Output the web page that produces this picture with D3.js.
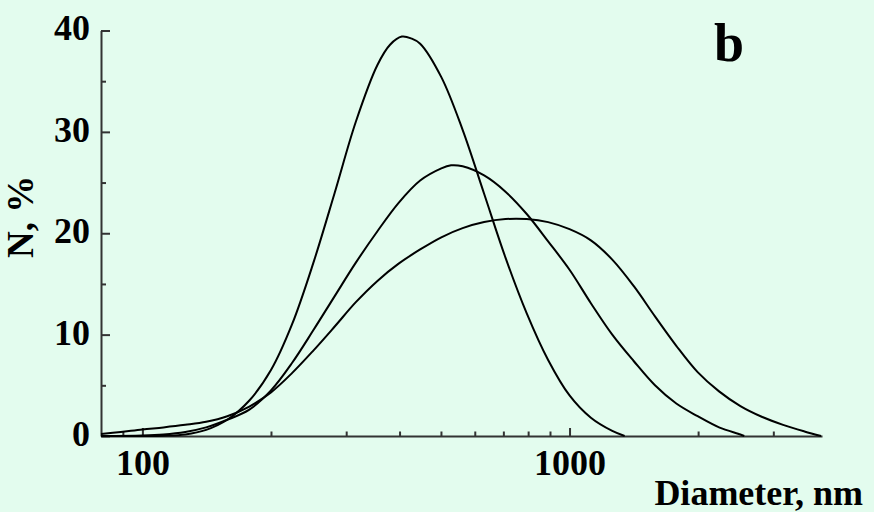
<!DOCTYPE html>
<html lang="en">
<head>
    <meta charset="UTF-8">
    <title>Size distribution</title>
    <script src="https://d3js.org/d3.v7.min.js"></script>
    <style>
        body {
            margin: 0;
            background: #e3fcee;
        }

        text {
            font-family: "Liberation Serif", "Times New Roman", serif;
            font-weight: bold;
            fill: #000;
        }

        .axis path,
        .axis line {
            stroke: #333;
            stroke-width: 2px;
        }

        .curve {
            fill: none;
            stroke: #000;
            stroke-width: 2px;
        }
    </style>
</head>

<body>
<svg id="chart" width="874" height="512"></svg>

<script>
    // Diameter (nm) / N (%)
    const sizesA = [80, 100, 112, 126, 141, 158, 178, 200, 224, 251, 282, 316, 355, 380, 405, 427, 447, 501, 562, 631, 708, 794, 891, 1000, 1122, 1259, 1346];
    const valuesA = [0, 0, 0.03, 0.15, 0.6, 1.6, 3.5, 6.5, 11.0, 17.0, 24.0, 31.0, 36.6, 38.6, 39.4, 39.2, 38.7, 35.4, 30.2, 23.9, 17.6, 12.1, 7.5, 4.0, 1.8, 0.5, 0];

    const sizesB = [80, 100, 112, 126, 141, 158, 178, 200, 224, 251, 282, 316, 355, 398, 447, 501, 528, 562, 631, 708, 794, 891, 1000, 1122, 1259, 1413, 1585, 1778, 1995, 2239, 2512, 2565];
    const valuesB = [0, 0.05, 0.15, 0.4, 0.85, 1.6, 2.6, 4.5, 7.2, 10.4, 13.8, 17.1, 20.2, 23.0, 25.2, 26.4, 26.7, 26.6, 25.7, 24.1, 21.9, 19.2, 16.4, 13.1, 10.0, 7.4, 5.0, 3.2, 1.95, 0.85, 0.15, 0];

    const sizesC = [80, 89, 100, 112, 126, 141, 158, 178, 200, 224, 251, 282, 316, 355, 398, 447, 501, 562, 631, 708, 794, 891, 1000, 1122, 1259, 1413, 1585, 1778, 1995, 2239, 2512, 2818, 3162, 3548, 3880];
    const valuesC = [0.2, 0.4, 0.65, 0.85, 1.1, 1.4, 1.95, 2.9, 4.3, 6.2, 8.4, 10.8, 13.2, 15.3, 17.0, 18.4, 19.6, 20.5, 21.1, 21.4, 21.4, 21.1, 20.4, 19.3, 17.4, 14.8, 11.8, 8.9, 6.3, 4.4, 2.95, 1.9, 1.1, 0.45, 0];

    // Tick values
    const xMajorTicks = [100, 1000];
    const xMinorTicks = [90, 200, 300, 400, 500, 600, 700, 800, 900, 2000, 3000];
    const yMajorTicks = [0, 10, 20, 30, 40];
    const yMinorTicks = [5, 15, 25, 35];

    const svg = d3.select("#chart");

    // Scales: log diameter, linear percentage
    const x = d3.scaleLog().domain([80, 3900]).range([101, 822]);
    const y = d3.scaleLinear().domain([0, 40]).range([436, 30.5]);

    // Minor ticks first so the axis lines sit on top
    svg.append("g")
        .attr("class", "axis")
        .attr("transform", "translate(0,436)")
        .call(d3.axisBottom(x).tickValues(xMinorTicks).tickSizeInner(-4.5).tickSizeOuter(0).tickFormat(""))
        .select(".domain").remove();

    svg.append("g")
        .attr("class", "axis")
        .attr("transform", "translate(101,0)")
        .call(d3.axisLeft(y).tickValues(yMinorTicks).tickSizeInner(-5).tickSizeOuter(0).tickFormat(""))
        .select(".domain").remove();

    // Major axes with labels
    const xAxis = svg.append("g")
        .attr("class", "axis")
        .attr("transform", "translate(0,436)")
        .call(d3.axisBottom(x).tickValues(xMajorTicks).tickSizeInner(-8).tickSizeOuter(0)
            .tickPadding(13).tickFormat(d3.format("d")));

    const yAxis = svg.append("g")
        .attr("class", "axis")
        .attr("transform", "translate(101,0)")
        .call(d3.axisLeft(y).tickValues(yMajorTicks).tickSizeInner(-9).tickSizeOuter(0)
            .tickPadding(11).tickFormat(d3.format("d")));

    xAxis.selectAll("text").attr("font-size", 36).attr("fill", "#000");
    yAxis.selectAll("text").attr("font-size", 36).attr("fill", "#000").attr("dy", "0.26em");
    svg.selectAll(".axis text").style("font-family", "'Liberation Serif', serif").style("font-weight", "bold");

    // Distribution curves
    const line = d3.line()
        .x(d => x(d[0]))
        .y(d => y(d[1]))
        .curve(d3.curveCatmullRom.alpha(0.5));

    [[sizesA, valuesA], [sizesB, valuesB], [sizesC, valuesC]].forEach(([s, v]) => {
        svg.append("path")
            .attr("class", "curve")
            .attr("d", line(d3.zip(s, v)));
    });

    // Axis titles and panel letter
    svg.append("text")
        .attr("x", 863)
        .attr("y", 505)
        .attr("text-anchor", "end")
        .attr("font-size", 36)
        .text("Diameter, nm");

    svg.append("text")
        .attr("transform", "translate(33,258) rotate(-90)")
        .attr("text-anchor", "start")
        .attr("font-size", 37)
        .text("N, %");

    svg.append("text")
        .attr("x", 729)
        .attr("y", 61)
        .attr("text-anchor", "middle")
        .attr("font-size", 54)
        .text("b");
</script>
</body>
</html>
